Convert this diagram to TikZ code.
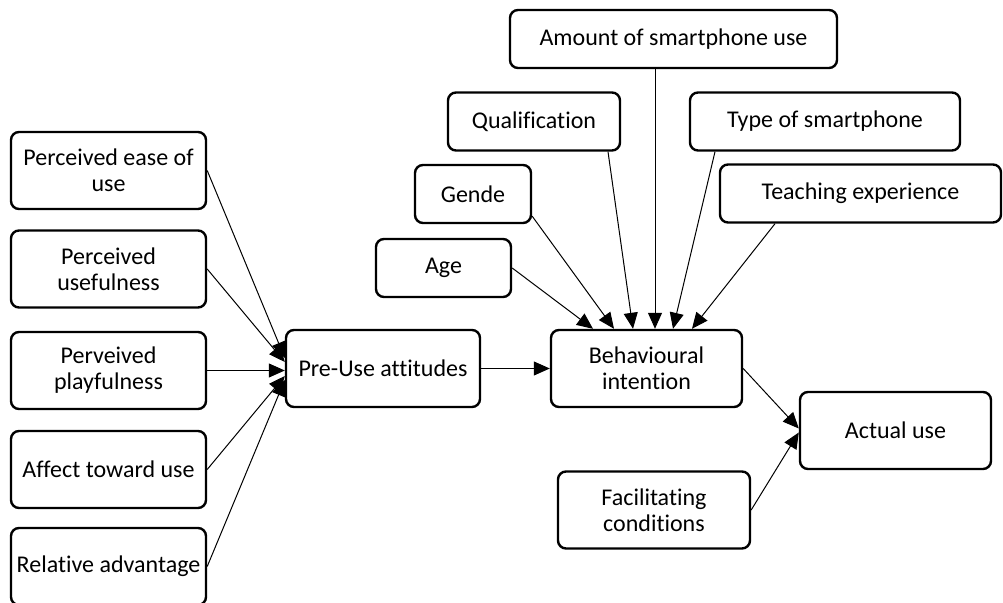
\documentclass[tikz,border=0pt]{standalone}
\usepackage{fontspec}
\setmainfont{Carlito}[Ligatures=NoCommon]
\usetikzlibrary{positioning, arrows.meta}

\tikzset{
  box/.style={draw=black, line width=1.2pt, rounded corners=4pt, align=center,
    inner sep=1pt, minimum height=38.5pt, font=\fontsize{12}{13}\selectfont},
  smallbox/.style={box, minimum height=29pt},
  link/.style={line width=0.5pt, black, -{Triangle[length=8pt,width=7pt]}}
}

\begin{document}
\begin{tikzpicture}[x=0.5pt, y=-0.5pt]
  \useasboundingbox (0,0) rectangle (1003,603);

  % left column
  \node[box, minimum width=97.5pt] (ease)     at (108.5,170.5) {Perceived ease of\\use};
  \node[box, minimum width=97.5pt] (useful)   at (108.5,269)   {Perceived\\usefulness};
  \node[box, minimum width=97.5pt] (playful)  at (108.5,370.5) {Perveived\\playfulness};
  \node[box, minimum width=97.5pt] (affect)   at (108.5,469.5) {Affect toward use};
  \node[box, minimum width=97.5pt] (relative) at (108.5,566.5) {Relative advantage};

  \node[box, minimum width=97pt]   (pre)      at (383,368.5)   {Pre-Use attitudes};
  \node[box, minimum width=95.5pt] (behav)    at (646.5,368.5) {Behavioural\\intention};
  \node[box, minimum width=95.5pt] (actual)   at (895.5,430.5) {Actual use};
  \node[box, minimum width=96pt]   (facil)    at (654,510)     {Facilitating\\conditions};

  % moderators above
  \node[smallbox, minimum width=163.5pt] (amount) at (673.5,39)  {Amount of smartphone use};
  \node[smallbox, minimum width=86pt]    (qual)   at (534,121.5) {Qualification};
  \node[smallbox, minimum width=135pt]   (type)   at (825,121.5) {Type of smartphone};
  \node[smallbox, minimum width=58pt]    (gende)  at (473,194)   {Gende};
  \node[smallbox, minimum width=140.5pt] (teach)  at (860.5,193.5) {Teaching experience};
  \node[smallbox, minimum width=67.5pt]  (age)    at (443.5,268) {Age};

  \draw[link] (ease.east)     -- ([yshift=5.25pt]pre.west);
  \draw[link] (useful.east)   -- ([yshift=3.25pt]pre.west);
  \draw[link] (playful.east)  -- ([yshift=-1pt]pre.west);
  \draw[link] (affect.east)   -- ([yshift=-3.75pt]pre.west);
  \draw[link] (relative.east) -- ([yshift=-5.75pt]pre.west);

  \draw[link] (pre.east) -- (behav.west);

  \draw[link] (age.east)                      -- ([xshift=-26.75pt]behav.north);
  \draw[link] ([yshift=4pt]gende.south east)  -- ([xshift=-16.25pt]behav.north);
  \draw[link] ([xshift=37pt]qual.south)       -- ([xshift=-6.75pt]behav.north);
  \draw[link] ([xshift=-9.25pt]amount.south)  -- ([xshift=4.25pt]behav.north);
  \draw[link] ([xshift=-55pt]type.south)      -- ([xshift=13.25pt]behav.north);
  \draw[link] ([xshift=-42.75pt]teach.south)  -- ([xshift=22.75pt]behav.north);

  \draw[link] (behav.east) -- ([yshift=1pt]actual.west);
  \draw[link] (facil.east) -- ([yshift=-1pt]actual.west);
\end{tikzpicture}
\end{document}
